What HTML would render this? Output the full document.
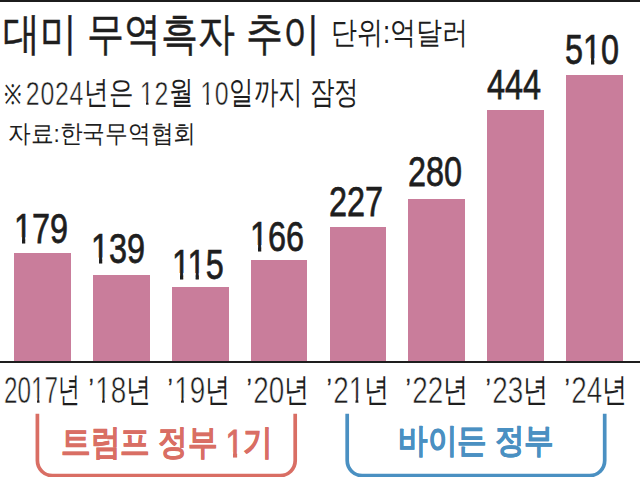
<!DOCTYPE html>
<html><head><meta charset="utf-8"><style>
*{margin:0;padding:0}
html,body{width:640px;height:477px;overflow:hidden;background:#fff}
body{position:relative;font-family:"Liberation Sans",sans-serif;color:#1e1e1e}
.t{position:absolute;white-space:nowrap;line-height:1;transform-origin:0 0}
.bar{position:absolute;background:#c97d9b}
.one{clip-path:polygon(0 0,100% 0,100% .77em,.347em .77em,.347em 100%,.247em 100%,.247em .77em,0 .77em)}
.oneb{font-weight:normal;font-size:1.1em;position:relative;top:.1em;-webkit-text-stroke:.9px #d96e64;clip-path:polygon(0 0,100% 0,100% .75em,.36em .75em,.36em 100%,.232em 100%,.232em .75em,0 .75em)}
.d{font-size:1.1em;position:relative;top:.05em;-webkit-text-stroke:.6px #fff}
.dn{font-size:1.03em;position:relative;top:.05em;-webkit-text-stroke:.5px #fff;letter-spacing:.9px}
.ast{font-size:.87em;position:relative;top:.02em;margin-right:.2em}
.ap{font-size:.8em;position:relative;top:-.14em;margin-right:.08em;-webkit-text-stroke:.5px #1e1e1e}
.onebd{clip-path:polygon(0 0,100% 0,100% .75em,.375em .75em,.375em 100%,.23em 100%,.23em .75em,0 .75em)}</style></head><body>
<div style="position:absolute;left:0;top:0;width:640px;height:2px;background:#1c1c1c"></div>
<div class="bar" style="left:14.00px;top:252.97px;width:56.80px;height:108.03px"></div>
<div class="bar" style="left:92.89px;top:274.52px;width:56.80px;height:86.48px"></div>
<div class="bar" style="left:171.77px;top:287.45px;width:56.80px;height:73.55px"></div>
<div class="bar" style="left:250.66px;top:259.98px;width:56.80px;height:101.02px"></div>
<div class="bar" style="left:329.54px;top:227.12px;width:56.80px;height:133.88px"></div>
<div class="bar" style="left:408.43px;top:198.56px;width:56.80px;height:162.44px"></div>
<div class="bar" style="left:487.32px;top:110.22px;width:56.80px;height:250.78px"></div>
<div class="bar" style="left:566.20px;top:74.66px;width:56.80px;height:286.34px"></div>
<div style="position:absolute;left:0;top:361px;width:640px;height:2px;background:#1e1e1e"></div>
<div class="t" id="title" style="left:3.19px;top:10.68px;font-size:45.35px;transform:scaleX(0.8220);-webkit-text-stroke:0.45px #1e1e1e;">대미 무역흑자 추이</div>
<div class="t" id="unit" style="left:331.37px;top:17.98px;font-size:30.71px;transform:scaleX(0.8390);">단위:억달러</div>
<div class="t" id="note" style="left:3.51px;top:75.96px;font-size:31.62px;transform:scaleX(0.7660);"><span class="ast">※</span><span class="dn">2024</span>년은 <span class="dn"><span class="one">1</span>2</span>월 <span class="dn"><span class="one">1</span>0</span>일까지 잠정</div>
<div class="t" id="src" style="left:8.04px;top:121.58px;font-size:24.81px;transform:scaleX(0.9090);">자료:한국무역협회</div>
<div class="t" id="n179" style="left:13.91px;top:206.90px;font-size:43.20px;transform:scaleX(0.7500);-webkit-text-stroke:0.75px #1e1e1e;"><span class="one">1</span>79</div>
<div class="t" id="n139" style="left:91.24px;top:227.27px;font-size:43.20px;transform:scaleX(0.7500);-webkit-text-stroke:0.75px #1e1e1e;"><span class="one">1</span>39</div>
<div class="t" id="n115" style="left:172.17px;top:242.74px;font-size:43.20px;transform:scaleX(0.7500);-webkit-text-stroke:0.75px #1e1e1e;"><span class="one">1</span><span class="one">1</span>5</div>
<div class="t" id="n166" style="left:250.44px;top:214.74px;font-size:43.20px;transform:scaleX(0.7500);-webkit-text-stroke:0.75px #1e1e1e;"><span class="one">1</span>66</div>
<div class="t" id="n227" style="left:328.68px;top:180.44px;font-size:43.20px;transform:scaleX(0.7500);-webkit-text-stroke:0.75px #1e1e1e;">227</div>
<div class="t" id="n280" style="left:408.40px;top:150.44px;font-size:43.20px;transform:scaleX(0.7500);-webkit-text-stroke:0.75px #1e1e1e;">280</div>
<div class="t" id="n444" style="left:486.82px;top:63.21px;font-size:43.20px;transform:scaleX(0.7500);-webkit-text-stroke:0.75px #1e1e1e;">444</div>
<div class="t" id="n510" style="left:565.43px;top:28.02px;font-size:43.20px;transform:scaleX(0.7500);-webkit-text-stroke:0.75px #1e1e1e;">5<span class="one">1</span>0</div>
<div class="t" id="l17" style="left:4.28px;top:369.98px;font-size:34.26px;transform:scaleX(0.6450);"><span class="d">20<span class="one">1</span>7</span>년</div>
<div class="t" id="l18" style="left:88.80px;top:370.98px;font-size:33.36px;transform:scaleX(0.7600);"><span class="ap">’</span><span class="d"><span class="one">1</span>8</span>년</div>
<div class="t" id="l19" style="left:167.89px;top:370.98px;font-size:33.36px;transform:scaleX(0.7600);"><span class="ap">’</span><span class="d"><span class="one">1</span>9</span>년</div>
<div class="t" id="l20" style="left:246.85px;top:370.98px;font-size:33.36px;transform:scaleX(0.7600);"><span class="ap">’</span><span class="d">20</span>년</div>
<div class="t" id="l21" style="left:326.74px;top:370.98px;font-size:33.36px;transform:scaleX(0.7600);"><span class="ap">’</span><span class="d">2<span class="one">1</span></span>년</div>
<div class="t" id="l22" style="left:405.85px;top:370.98px;font-size:33.36px;transform:scaleX(0.7600);"><span class="ap">’</span><span class="d">22</span>년</div>
<div class="t" id="l23" style="left:485.59px;top:370.98px;font-size:33.36px;transform:scaleX(0.7600);"><span class="ap">’</span><span class="d">23</span>년</div>
<div class="t" id="l24" style="left:564.85px;top:370.98px;font-size:33.36px;transform:scaleX(0.7600);"><span class="ap">’</span><span class="d">24</span>년</div>
<div class="t" id="trump" style="left:60.82px;top:421.52px;font-size:34.58px;transform:scaleX(0.8470);font-weight:bold;color:#d96e64;-webkit-text-stroke:.35px #d96e64;">트럼프 정부 <span class="oneb">1</span>기</div>
<div class="t" id="biden" style="left:397.57px;top:423.47px;font-size:34.31px;transform:scaleX(0.8690);font-weight:bold;color:#4a90c2;-webkit-text-stroke:.35px #4a90c2;">바이든 정부</div>
<svg style="position:absolute;left:0;top:0" width="640" height="477"><path d="M37.4 413.7V460.6A15 15 0 0 0 52.4 475.6H280.2A15 15 0 0 0 295.2 460.6V413.7" fill="none" stroke="#d96e64" stroke-width="3.7"/><path d="M347.2 413.7V460.6A15 15 0 0 0 362.2 475.6H589.7A15 15 0 0 0 604.7 460.6V413.7" fill="none" stroke="#4a90c2" stroke-width="3.7"/></svg>
</body></html>
